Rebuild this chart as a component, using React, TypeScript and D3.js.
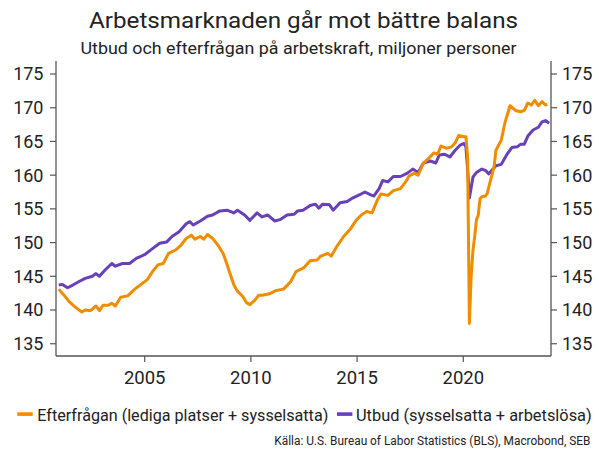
import React from "react";
import * as d3 from "d3";

// ---- Data ----
const title = "Arbetsmarknaden går mot bättre balans";
const subtitle = "Utbud och efterfrågan på arbetskraft, miljoner personer";
const source = "Källa: U.S. Bureau of Labor Statistics (BLS), Macrobond, SEB";
const demandLabel = "Efterfrågan (lediga platser + sysselsatta)";
const supplyLabel = "Utbud (sysselsatta + arbetslösa)";

const yTicks = [135, 140, 145, 150, 155, 160, 165, 170, 175];
const xTickYears = [2005, 2010, 2015, 2020];

const supplyDates = [
  "2000-12","2001-02","2001-05","2001-08","2001-12","2002-03","2002-07","2002-09","2002-11","2003-02",
  "2003-06","2003-08","2003-12","2004-04","2004-08","2004-10","2005-01","2005-05","2005-09","2006-01",
  "2006-04","2006-08","2006-12","2007-02","2007-04","2007-08","2007-12","2008-03","2008-07","2008-11",
  "2009-03","2009-05","2009-09","2009-12","2010-04","2010-07","2010-10","2011-02","2011-05","2011-09",
  "2012-01","2012-03","2012-06","2012-10","2013-01","2013-03","2013-05","2013-09","2013-11","2014-03",
  "2014-07","2014-10","2015-02","2015-05","2015-08","2015-10","2016-01","2016-03","2016-06","2016-09",
  "2017-01","2017-05","2017-08","2017-11","2018-02","2018-06","2018-09","2018-11","2019-02","2019-05",
  "2019-08","2019-11","2020-01","2020-02","2020-03","2020-04","2020-06","2020-08","2020-11","2021-01",
  "2021-03","2021-05","2021-07","2021-10","2022-01","2022-04","2022-07","2022-09","2022-11","2023-01",
  "2023-04","2023-07","2023-09","2023-11","2024-01"
];
const supplyValues = [
  143.7,143.8,143.3,143.7,144.3,144.7,145.0,145.4,145.0,145.9,
  146.9,146.5,146.9,146.9,147.7,147.9,148.3,149.1,149.9,150.1,
  150.9,151.6,152.8,153.1,152.6,153.2,153.9,154.1,154.7,154.8,
  154.4,154.8,154.1,153.3,154.4,153.8,154.1,153.2,153.4,154.1,
  154.2,154.7,154.8,155.5,155.7,155.1,155.7,155.6,154.8,155.9,
  156.1,156.6,157.1,157.5,157.1,156.9,158.0,159.2,159.0,159.8,
  159.8,160.3,160.9,160.4,161.8,162.1,161.8,163.0,163.1,162.7,
  163.7,164.5,164.7,164.2,161.0,156.6,159.7,160.4,160.9,160.7,
  160.2,160.8,161.4,161.6,163.0,164.1,164.2,164.6,164.6,165.8,
  166.7,167.1,167.9,168.1,167.7
];

const demandDates = [
  "2000-12","2001-03","2001-06","2001-09","2002-01","2002-03","2002-06","2002-09","2002-11","2003-01",
  "2003-04","2003-06","2003-08","2003-11","2004-03","2004-07","2004-10","2005-02","2005-05","2005-08",
  "2005-11","2006-02","2006-06","2006-09","2006-12","2007-03","2007-05","2007-08","2007-10","2007-12",
  "2008-03","2008-06","2008-09","2008-11","2009-01","2009-03","2009-05","2009-08","2009-10","2009-12",
  "2010-03","2010-05","2010-07","2010-11","2011-03","2011-07","2011-11","2012-02","2012-06","2012-07",
  "2012-10","2013-02","2013-04","2013-08","2013-10","2014-01","2014-05","2014-09","2014-12","2015-03",
  "2015-06","2015-09","2015-12","2016-02","2016-06","2016-09","2017-01","2017-04","2017-06","2017-09",
  "2017-11","2018-02","2018-05","2018-08","2018-10","2018-12","2019-03","2019-06","2019-08","2019-10",
  "2020-01","2020-02","2020-03","2020-04","2020-05","2020-06","2020-07","2020-08","2020-09","2020-10",
  "2020-11","2021-01","2021-02","2021-04","2021-06","2021-07","2021-10","2021-12","2022-03","2022-06",
  "2022-09","2022-11","2023-01","2023-03","2023-05","2023-07","2023-09","2023-11","2023-12"
];
const demandValues = [
  143.1,142.2,141.2,140.5,139.7,140.0,139.9,140.6,139.9,140.7,
  140.7,141.0,140.6,141.9,142.1,143.1,143.7,144.5,145.7,146.7,
  146.9,148.4,148.9,149.6,150.6,151.1,150.5,150.9,150.5,151.2,
  150.6,149.6,148.3,146.8,145.2,143.7,142.8,142.0,141.1,140.8,
  141.5,142.2,142.2,142.4,142.9,143.1,144.2,145.7,146.2,146.4,
  147.3,147.4,148.0,148.4,148.0,149.4,150.9,152.1,153.3,154.1,
  154.6,154.4,156.3,157.2,157.0,157.7,158.0,159.0,159.9,160.3,
  160.0,161.8,162.5,163.3,163.1,164.3,164.0,164.2,164.8,165.9,
  165.7,165.7,162.7,138.0,145.0,148.8,150.9,153.4,154.1,156.5,
  156.8,156.9,157.3,159.3,161.3,163.7,165.2,167.7,170.3,169.6,
  169.4,169.6,170.7,170.4,171.1,170.3,170.9,170.4,170.5
];

const demandColor = "#EF8C00";
const supplyColor = "#6641B8";
const axisColor = "#555555";
const textColor = "#222222";
const fontFamily = "Roboto, 'Liberation Sans', sans-serif";

const W = 599;
const H = 452;

function decYear(y: number): Date {
  const year = Math.floor(y);
  const start = new Date(year, 0, 1).getTime();
  const end = new Date(year + 1, 0, 1).getTime();
  return new Date(start + (y - year) * (end - start));
}
function parseMonth(s: string): Date {
  const [y, m] = s.split("-").map(Number);
  return new Date(y, m - 1, 15);
}

export default function App() {
  const left = 56, right = 551, top = 61, bottom = 356;
  const x = d3.scaleTime().domain([decYear(2000.824), decYear(2024.129)]).range([left, right]);
  const y = d3.scaleLinear().domain([133.18, 176.93]).range([bottom, top]);

  const line = d3
    .line<[Date, number]>()
    .x((d) => x(d[0]))
    .y((d) => y(d[1]))
    .curve(d3.curveLinear);

  const supply: [Date, number][] = supplyDates.map((d, i) => [parseMonth(d), supplyValues[i]]);
  const demand: [Date, number][] = demandDates.map((d, i) => [parseMonth(d), demandValues[i]]);

  return (
    <svg
      width={W}
      height={H}
      style={{ position: "absolute", left: 0, top: 0, background: "#fff" }}
      fontFamily={fontFamily}
    >
      <rect x={0} y={0} width={W} height={H} fill="#fff" />
      <text x={303.5} y={28.3} textAnchor="middle" fontSize={21.5} fill={textColor} textLength={429} lengthAdjust="spacingAndGlyphs">
        {title}
      </text>
      <text x={298.5} y={54} textAnchor="middle" fontSize={16.2} fill={textColor} textLength={436} lengthAdjust="spacingAndGlyphs">
        {subtitle}
      </text>

      {/* axes */}
      <line x1={left} x2={left} y1={top} y2={bottom} stroke={axisColor} strokeWidth={1.3} />
      <line x1={right} x2={right} y1={top} y2={bottom} stroke={axisColor} strokeWidth={1.3} />
      <line x1={left} x2={right} y1={bottom} y2={bottom} stroke={axisColor} strokeWidth={1.3} />

      {yTicks.map((t) => (
        <g key={"yt" + t}>
          <line x1={left - 6} x2={left} y1={y(t)} y2={y(t)} stroke={axisColor} strokeWidth={1.2} />
          <line x1={right} x2={right + 6} y1={y(t)} y2={y(t)} stroke={axisColor} strokeWidth={1.2} />
          <text x={43.5} y={y(t)} dy="0.36em" textAnchor="end" fontSize={18} fill={textColor}>
            {t}
          </text>
          <text x={562} y={y(t)} dy="0.36em" textAnchor="start" fontSize={18} fill={textColor}>
            {t}
          </text>
        </g>
      ))}

      {xTickYears.map((yr) => {
        const xx = x(new Date(yr, 0, 1));
        return (
          <g key={"xt" + yr}>
            <line x1={xx} x2={xx} y1={bottom} y2={bottom + 6} stroke={axisColor} strokeWidth={1.2} />
            <text x={xx} y={383.5} textAnchor="middle" fontSize={18.5} fill={textColor}>
              {yr}
            </text>
          </g>
        );
      })}

      {/* lines */}
      <path d={line(supply) || ""} fill="none" stroke={supplyColor} strokeWidth={3} strokeLinejoin="round" />
      <path d={line(demand) || ""} fill="none" stroke={demandColor} strokeWidth={3} strokeLinejoin="round" />

      {/* legend */}
      <rect x={17.3} y={412.3} width={15.4} height={3.6} fill={demandColor} />
      <text x={37.3} y={420.7} fontSize={16.2} fill={textColor} textLength={291} lengthAdjust="spacingAndGlyphs">
        {demandLabel}
      </text>
      <rect x={337} y={412.3} width={15.4} height={3.6} fill={supplyColor} />
      <text x={356} y={420.7} fontSize={16.2} fill={textColor} textLength={235.7} lengthAdjust="spacingAndGlyphs">
        {supplyLabel}
      </text>

      <text x={590.3} y={445} textAnchor="end" fontSize={12} fill={textColor} textLength={316} lengthAdjust="spacingAndGlyphs">
        {source}
      </text>
    </svg>
  );
}
